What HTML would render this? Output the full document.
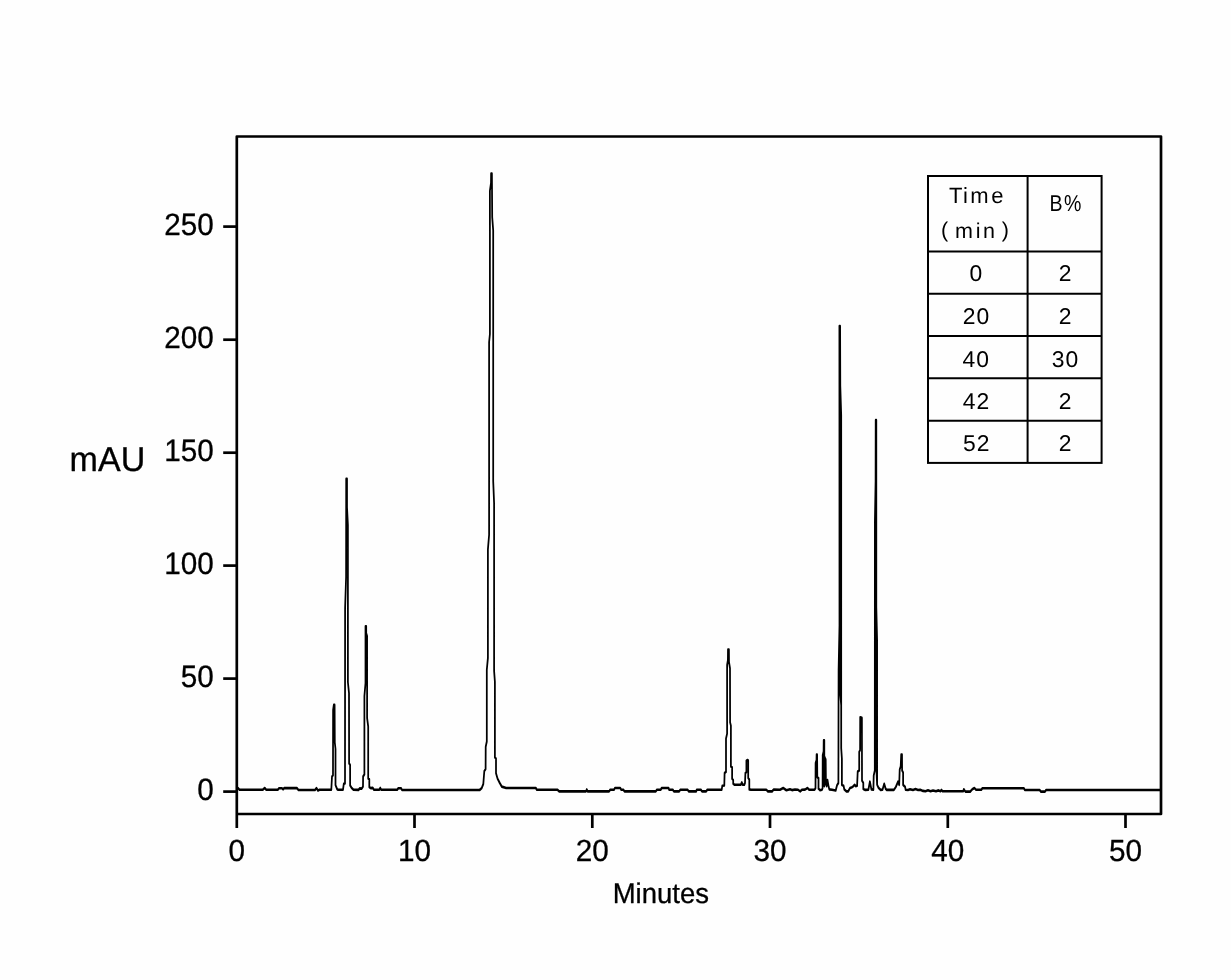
<!DOCTYPE html>
<html lang="en">
<head>
<meta charset="utf-8">
<title>Chromatogram</title>
<style>
html,body{margin:0;padding:0;background:#fff;}
body{width:1231px;height:980px;overflow:hidden;}
svg{display:block;}
text{font-family:"Liberation Sans",sans-serif;fill:#000;text-rendering:geometricPrecision;}
.b{stroke:#000;stroke-width:0.3px;stroke-linejoin:round;}
.tk{font-size:30px;stroke:#000;stroke-width:0.3px;stroke-linejoin:round;}
</style>
</head>
<body>
<svg width="1231" height="980" viewBox="0 0 1231 980">
<rect x="0" y="0" width="1231" height="980" fill="#fefefe"/>
<g fill="none" stroke="#000" stroke-width="2.7" stroke-linecap="butt" stroke-linejoin="round">
<path d="M236.8,828.0 V136.5 H1161.0 V814.0 H236.8"/>
<path d="M414.5,814.0 V828.0"/>
<path d="M592.3,814.0 V828.0"/>
<path d="M770.0,814.0 V828.0"/>
<path d="M947.8,814.0 V828.0"/>
<path d="M1125.5,814.0 V828.0"/>
<path d="M236.8,791.6 H223.2"/>
<path d="M236.8,678.6 H223.2"/>
<path d="M236.8,565.6 H223.2"/>
<path d="M236.8,452.7 H223.2"/>
<path d="M236.8,339.7 H223.2"/>
<path d="M236.8,226.6 H223.2"/>
</g>
<g transform="scale(1,1.500)"><polyline fill="none" stroke="#000" stroke-width="1.75" stroke-linejoin="round" stroke-linecap="butt" points="237.8,525.13 239.5,526.47 262.9,526.47 264.8,525.33 266.2,526.53 277.8,526.53 279.0,525.47 282.0,525.47 283.0,526.20 284.2,525.40 296.9,525.40 298.5,526.67 315.0,526.60 316.5,525.40 318.0,527.07 319.5,526.53 331.3,526.47 332.0,517.67 333.0,516.87 333.1,473.40 333.8,469.93 334.6,469.93 334.8,495.07 335.5,499.27 335.5,523.40 337.2,526.20 338.0,526.47 343.0,526.47 343.8,522.53 345.0,522.27 345.1,405.40 346.1,384.73 346.2,319.13 347.0,319.13 347.0,338.07 347.9,350.07 347.9,454.73 349.0,462.07 349.1,508.93 350.1,510.00 350.1,523.60 351.6,525.27 353.6,526.53 358.5,526.60 359.8,525.60 361.7,525.73 363.0,524.40 363.1,517.67 364.4,516.27 364.4,464.07 365.5,455.40 365.5,417.53 366.2,417.53 366.2,422.07 367.1,424.07 367.1,478.73 368.2,484.40 368.2,519.00 369.3,519.53 369.3,524.67 370.7,525.40 372.8,525.27 374.0,526.53 379.2,526.53 380.3,525.33 381.3,526.53 397.2,526.53 398.3,525.47 401.0,525.47 402.0,526.67 479.6,526.67 481.7,525.47 483.3,522.67 484.3,514.13 485.6,512.73 485.7,497.87 486.8,494.33 486.8,446.60 487.9,438.67 487.9,366.33 489.1,356.53 489.1,228.07 489.9,222.73 489.9,127.13 491.0,122.07 491.1,115.67 491.9,115.67 492.2,144.73 493.2,153.67 493.2,320.73 494.1,335.40 494.1,447.20 494.9,454.60 494.9,504.93 496.0,505.67 496.0,515.53 497.6,519.13 499.7,521.93 501.8,524.40 506.1,525.33 535.8,525.33 536.9,526.53 557.6,526.53 559.2,527.60 586.0,527.60 586.8,526.33 587.6,527.60 609.1,527.60 610.2,526.53 613.9,526.53 614.9,525.33 620.3,525.33 621.3,526.53 623.4,526.53 624.5,527.60 655.8,527.60 656.9,526.53 660.6,526.53 661.7,525.33 668.6,525.33 669.1,526.53 672.8,526.53 673.9,527.60 679.2,527.60 680.2,526.53 687.7,526.53 688.7,527.60 696.2,527.60 696.7,526.53 700.9,526.53 702.0,527.60 706.2,527.60 707.3,526.53 721.7,526.53 722.3,523.87 724.3,523.67 724.6,515.33 726.0,514.60 726.0,492.47 727.1,489.13 727.1,443.40 727.9,440.07 728.0,433.07 728.9,433.07 729.0,441.40 730.0,445.60 730.1,481.60 730.9,483.73 730.9,511.00 732.1,511.47 732.1,519.13 733.2,520.07 733.2,522.47 734.3,523.13 740.8,523.13 741.8,521.60 742.8,523.13 744.3,523.13 745.0,522.00 745.4,515.33 746.4,514.80 746.4,507.07 747.2,506.73 747.8,506.73 748.2,507.07 748.2,518.67 749.3,519.60 749.3,526.27 751.0,526.47 766.3,526.47 767.9,527.60 772.1,527.60 773.7,526.33 780.0,526.53 783.2,525.33 786.4,526.87 790.0,526.20 792.0,526.73 795.0,526.33 798.1,526.53 800.2,527.60 801.8,526.53 805.0,526.40 807.5,525.33 809.3,526.53 814.6,526.53 815.5,525.40 815.6,508.67 816.5,506.73 816.6,503.07 817.1,503.07 817.3,518.13 818.5,518.67 818.5,525.80 820.0,526.73 822.0,526.47 822.6,525.40 822.7,503.40 823.6,501.00 823.7,493.53 824.3,493.53 824.3,524.07 824.6,506.73 825.0,505.07 825.2,522.73 825.7,506.27 825.9,520.07 826.6,524.07 827.5,520.07 828.6,524.33 829.3,526.27 832.0,526.47 835.7,527.00 837.1,523.40 838.4,522.00 838.6,446.73 839.5,416.73 839.4,217.33 840.1,217.33 840.3,257.40 841.2,276.73 841.2,470.07 840.3,463.40 840.3,286.73 840.3,463.40 841.2,470.07 841.2,498.73 841.9,505.80 841.9,523.40 843.6,523.87 844.3,526.27 846.4,527.60 848.2,527.60 850.0,525.33 852.1,524.80 853.5,524.07 854.6,523.20 855.8,524.07 857.1,523.87 857.7,514.33 859.2,513.67 859.2,501.40 860.1,500.07 860.2,478.20 861.9,478.60 862.0,520.47 863.3,521.87 863.3,525.93 865.3,526.60 868.4,526.47 869.9,521.13 871.4,526.27 873.4,526.47 873.7,517.07 874.8,513.67 874.9,348.07 875.6,320.73 875.7,280.07 876.3,280.07 876.3,404.73 877.0,424.07 877.1,523.20 877.1,426.73 876.0,400.07 876.0,506.73 877.1,523.20 878.6,525.27 880.6,526.60 882.5,526.47 884.2,522.53 885.7,525.93 886.7,526.60 893.9,526.60 895.9,524.53 898.0,521.13 899.2,523.20 899.7,513.00 900.7,510.93 901.2,503.00 902.0,503.00 902.1,513.67 903.1,515.00 903.1,523.20 905.1,524.53 905.6,526.47 908.0,526.67 910.0,526.20 913.0,526.67 915.5,526.00 918.0,526.67 920.2,526.53 923.0,527.27 925.5,527.47 928.0,526.87 930.5,527.53 933.0,527.00 936.0,527.53 938.5,526.93 940.5,527.53 941.5,526.60 942.5,527.47 963.3,527.47 963.8,526.20 965.4,527.73 970.2,527.73 972.3,526.20 974.4,525.33 976.0,526.53 981.3,526.53 982.4,525.47 1023.8,525.47 1024.8,526.67 1039.7,526.67 1040.8,527.73 1045.0,527.73 1046.1,526.67 1161.0,526.67"/></g>
<text class="tk" transform="translate(213.8,800.1) scale(0.99,1.03)" text-anchor="end">0</text>
<text class="tk" transform="translate(213.8,687.1) scale(0.99,1.03)" text-anchor="end">50</text>
<text class="tk" transform="translate(213.8,574.1) scale(0.99,1.03)" text-anchor="end">100</text>
<text class="tk" transform="translate(213.8,461.1) scale(0.99,1.03)" text-anchor="end">150</text>
<text class="tk" transform="translate(213.8,348.1) scale(0.99,1.03)" text-anchor="end">200</text>
<text class="tk" transform="translate(213.8,235.1) scale(0.99,1.03)" text-anchor="end">250</text>
<text class="tk" transform="translate(236.8,861.1) scale(0.99,1.02)" text-anchor="middle">0</text>
<text class="tk" transform="translate(414.5,861.1) scale(0.99,1.02)" text-anchor="middle">10</text>
<text class="tk" transform="translate(592.3,861.1) scale(0.99,1.02)" text-anchor="middle">20</text>
<text class="tk" transform="translate(770.0,861.1) scale(0.99,1.02)" text-anchor="middle">30</text>
<text class="tk" transform="translate(947.8,861.1) scale(0.99,1.02)" text-anchor="middle">40</text>
<text class="tk" transform="translate(1125.5,861.1) scale(0.99,1.02)" text-anchor="middle">50</text>
<text transform="translate(69.6,470.7) scale(1.032,1.043)" font-size="33" class="b">mAU</text>
<text class="b" transform="translate(612.7,902.9) scale(1,1.03)" font-size="27.5">Minutes</text>
<g fill="none" stroke="#000" stroke-width="2.0">
<rect x="928.0" y="176.0" width="173.6" height="286.9"/>
<path d="M1027.6,176.0 V462.9"/>
<path d="M928.0,251.5 H1101.6"/>
<path d="M928.0,293.8 H1101.6"/>
<path d="M928.0,336.1 H1101.6"/>
<path d="M928.0,378.2 H1101.6"/>
<path d="M928.0,420.8 H1101.6"/>
</g>
<text font-size="22" x="948.9 962.9 970.3 991.2" y="202.8">Time</text>
<text font-size="21.5" x="941 949.4 954.9 975.8 982.9 995.1 1001.7" y="236.7 237.9 237.9 237.9 237.9 237.9 236.7" xml:space="preserve">( min )</text>
<text transform="translate(1049.53,210.80) scale(0.910,1.065)" font-size="21.50" style="letter-spacing:1.50px" xml:space="preserve">B%</text>
<text transform="translate(969.48,280.80) scale(1.090,1.085)" font-size="21.00" xml:space="preserve">0</text>
<text transform="translate(1058.76,280.80) scale(1.090,1.085)" font-size="21.00" xml:space="preserve">2</text>
<text transform="translate(962.76,323.50) scale(1.090,1.085)" font-size="21.00" style="letter-spacing:0.90px" xml:space="preserve">20</text>
<text transform="translate(1058.76,323.50) scale(1.090,1.085)" font-size="21.00" xml:space="preserve">2</text>
<text transform="translate(962.53,366.50) scale(1.090,1.085)" font-size="21.00" style="letter-spacing:0.90px" xml:space="preserve">40</text>
<text transform="translate(1051.68,366.50) scale(1.090,1.085)" font-size="21.00" style="letter-spacing:0.90px" xml:space="preserve">30</text>
<text transform="translate(962.73,408.50) scale(1.090,1.085)" font-size="21.00" style="letter-spacing:0.90px" xml:space="preserve">42</text>
<text transform="translate(1058.76,408.50) scale(1.090,1.085)" font-size="21.00" xml:space="preserve">2</text>
<text transform="translate(962.98,450.90) scale(1.090,1.085)" font-size="21.00" style="letter-spacing:0.90px" xml:space="preserve">52</text>
<text transform="translate(1058.76,450.90) scale(1.090,1.085)" font-size="21.00" xml:space="preserve">2</text>
</svg>
</body>
</html>
